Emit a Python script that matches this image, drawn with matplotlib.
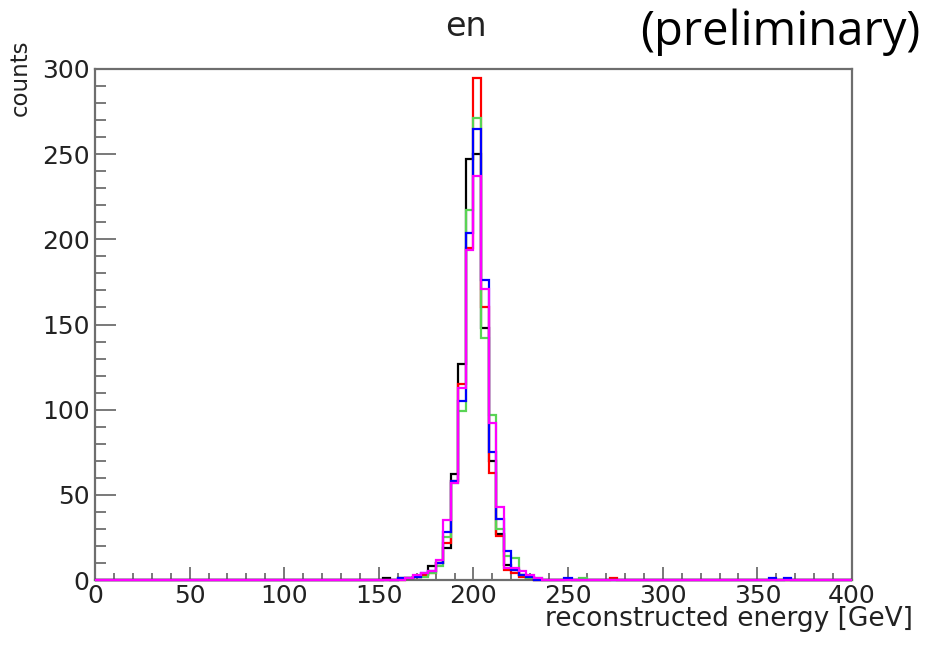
import numpy as np
import matplotlib
matplotlib.use("Agg")
import matplotlib.pyplot as plt
from matplotlib.ticker import MultipleLocator

# Histogram binning: 100 bins of 4 GeV from 0 to 400
bin_width = 4
x_min, x_max = 0, 400
# Counts for bins starting at 152 GeV (bins 38..58)
peak_first_bin = 38
black_peak   = [1, 0, 1, 1, 2, 3, 8, 10, 19, 62, 127, 247, 250, 148, 70, 27, 9, 6, 3, 1, 0]
red_peak     = [0, 0, 0, 1, 2, 3, 4, 10, 22, 58, 115, 195, 295, 160, 63, 26, 6, 4, 2, 1, 0]
green_peak   = [0, 0, 0, 1, 2, 2, 4, 8, 25, 57, 99, 217, 271, 142, 97, 30, 14, 13, 3, 1, 1]
blue_peak    = [0, 0, 1, 1, 2, 4, 5, 10, 28, 58, 105, 204, 265, 176, 75, 36, 17, 6, 3, 2, 0]
magenta_peak = [0, 0, 0, 1, 3, 4, 5, 12, 35, 57, 113, 194, 237, 171, 92, 43, 7, 7, 5, 3, 1]
# isolated tail entries: (bin index, count)
black_tail = []
red_tail = [(68, 1)]
green_tail = [(64, 1)]
blue_tail = [(62, 1), (89, 1), (91, 1)]
magenta_tail = []

colors = {"black": "#000000", "red": "#ff0000", "green": "#59d454",
          "blue": "#0000ff", "magenta": "#ff00ff"}

edges = np.arange(x_min, x_max + bin_width, bin_width)
nbins = len(edges) - 1

def build(peak, tail):
    h = np.zeros(nbins)
    h[peak_first_bin:peak_first_bin + len(peak)] = peak
    for b, c in tail:
        h[b] = c
    return h

series = [
    ("black", build(black_peak, black_tail)),
    ("red", build(red_peak, red_tail)),
    ("green", build(green_peak, green_tail)),
    ("blue", build(blue_peak, blue_tail)),
    ("magenta", build(magenta_peak, magenta_tail)),
]

W, H = 929, 646
fig = plt.figure(figsize=(W / 100, H / 100), dpi=100)
ax = fig.add_axes([95 / W, (H - 580) / H, (852 - 95) / W, (580 - 69) / H])

for name, h in series:
    ax.stairs(h, edges, color=colors[name], lw=1.6, zorder=3, clip_on=False, baseline=0)

ax.set_xlim(x_min, x_max)
ax.set_ylim(0, 300)

frame_col = "#6e6e6e"
for s in ax.spines.values():
    s.set_color(frame_col)
    s.set_linewidth(1.6)

ax.xaxis.set_major_locator(MultipleLocator(50))
ax.xaxis.set_minor_locator(MultipleLocator(10))
ax.yaxis.set_major_locator(MultipleLocator(50))
ax.yaxis.set_minor_locator(MultipleLocator(10))
ax.tick_params(axis="x", which="major", direction="in", length=9.5, width=1.3,
               color=frame_col, labelsize=18, pad=3, top=False)
ax.tick_params(axis="x", which="minor", direction="in", length=4.8, width=1.3,
               color=frame_col, top=False)
ax.tick_params(axis="y", which="major", direction="in", length=15, width=1.3,
               color=frame_col, labelsize=18, pad=4, right=False)
ax.tick_params(axis="y", which="minor", direction="in", length=8, width=1.3,
               color=frame_col, right=False)
for lab in ax.get_xticklabels() + ax.get_yticklabels():
    lab.set_fontfamily("DejaVu Sans")
    lab.set_color("#222222")

fig.text(20 / W, 1 - 40 / H, "counts", rotation=90, ha="center", va="top",
         fontsize=16.5, family="DejaVu Sans", color="#222222")
fig.text(913 / W, 1 - 626 / H, "reconstructed energy [GeV]", ha="right", va="baseline",
         fontsize=19, family="DejaVu Sans", color="#222222")
fig.text(466 / W, 1 - 36 / H, "en", ha="center", va="baseline",
         fontsize=24, family="DejaVu Sans", color="#222222")
fig.text(920 / W, 1 - 45 / H, "(preliminary)", ha="right", va="baseline",
         fontsize=34, family="Open Sans", color="#000000")

fig.savefig("out.png", dpi=100)
